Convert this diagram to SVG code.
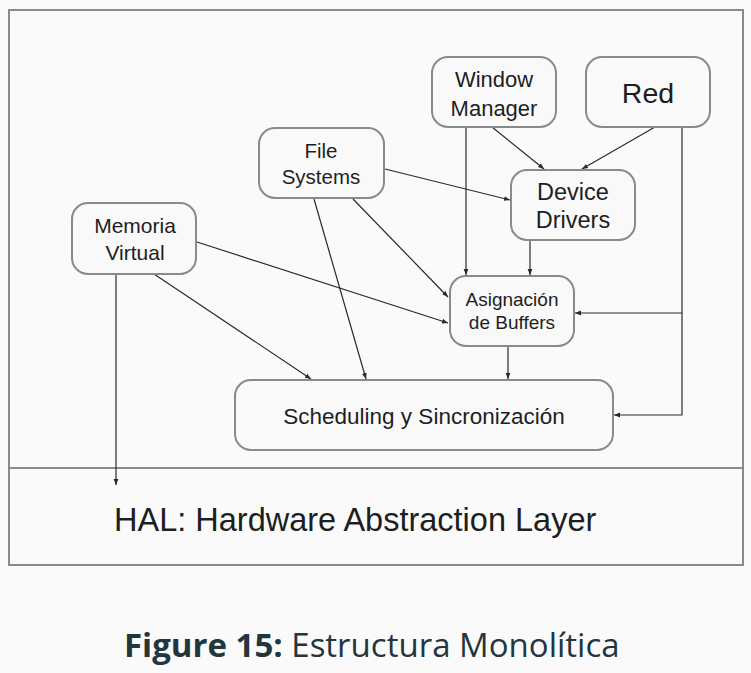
<svg xmlns="http://www.w3.org/2000/svg" width="751" height="673" viewBox="0 0 751 673">
<style>
.node rect{fill:#f9f9f9;stroke:#8a8a8a;stroke-width:2}
.node text{font-family:"Liberation Sans",Arial,sans-serif;fill:#1e1e1e;text-anchor:middle}
.conn line,.conn polyline{stroke:#2a2a2a;stroke-width:1.2;fill:none;marker-end:url(#ah)}
.frame{fill:none;stroke:#8a8a8a;stroke-width:2}
.cap{font-family:"Open Sans","DejaVu Sans",sans-serif;fill:#24363d;font-size:33px}
</style>
<defs>
<marker id="ah" viewBox="0 0 10 10" refX="10" refY="5" markerWidth="6" markerHeight="6" markerUnits="userSpaceOnUse" orient="auto">
<path d="M0,1 L10,5 L0,9 z" fill="#2a2a2a"/>
</marker>
</defs>
<rect x="0" y="0" width="751" height="673" fill="#fafafa"/>
<g id="frame">
<rect class="frame" x="9" y="10" width="734" height="555"/>
<line class="frame" x1="9" y1="468" x2="743" y2="468"/>
</g>
<g class="conn" id="connectors">
<line x1="466" y1="127" x2="466" y2="275"/>
<line x1="492" y1="127" x2="544" y2="169"/>
<line x1="655" y1="127" x2="582" y2="169"/>
<line x1="385" y1="169" x2="510" y2="200"/>
<line x1="353" y1="199" x2="448" y2="297"/>
<line x1="197" y1="242" x2="448" y2="323"/>
<line x1="154" y1="274" x2="311" y2="379"/>
<line x1="314" y1="199" x2="366" y2="379"/>
<line x1="530" y1="240" x2="530" y2="275"/>
<line x1="508" y1="347" x2="508" y2="379"/>
<polyline points="682,127 682,313 575,313"/>
<polyline points="682,313 682,415 614,415"/>
<line x1="116" y1="274" x2="116" y2="485"/>
</g>
<g class="node" id="window-manager">
<rect x="432" y="57" width="124" height="70" rx="16"/>
<text x="494" y="87" font-size="22">Window</text>
<text x="494" y="116" font-size="22">Manager</text>
</g>
<g class="node" id="red">
<rect x="586" y="57" width="124" height="70" rx="16"/>
<text x="648" y="103" font-size="28.5">Red</text>
</g>
<g class="node" id="file-systems">
<rect x="259" y="128" width="125" height="70" rx="16"/>
<text x="321" y="158" font-size="20.5">File</text>
<text x="321" y="184" font-size="20.5">Systems</text>
</g>
<g class="node" id="device-drivers">
<rect x="511" y="170" width="124" height="70" rx="16"/>
<text x="573" y="200" font-size="23.5">Device</text>
<text x="573" y="228" font-size="23.5">Drivers</text>
</g>
<g class="node" id="memoria-virtual">
<rect x="72" y="203" width="124" height="71" rx="16"/>
<text x="135" y="233" font-size="21">Memoria</text>
<text x="135" y="260" font-size="21">Virtual</text>
</g>
<g class="node" id="asignacion-buffers">
<rect x="450" y="276" width="124" height="70" rx="16"/>
<text x="512" y="306" font-size="19">Asignación</text>
<text x="512" y="329" font-size="19">de Buffers</text>
</g>
<g class="node" id="scheduling">
<rect x="235" y="380" width="378" height="70" rx="16"/>
<text x="424" y="424" font-size="22.5">Scheduling y Sincronización</text>
</g>
<g id="hal">
<text x="114" y="531" font-family="Liberation Sans,Arial,sans-serif" font-size="32.5" fill="#1e1e1e">HAL: Hardware Abstraction Layer</text>
</g>
<g id="caption">
<text x="124" y="657" class="cap"><tspan font-weight="bold">Figure 15:</tspan> Estructura Monolítica</text>
</g>
</svg>
